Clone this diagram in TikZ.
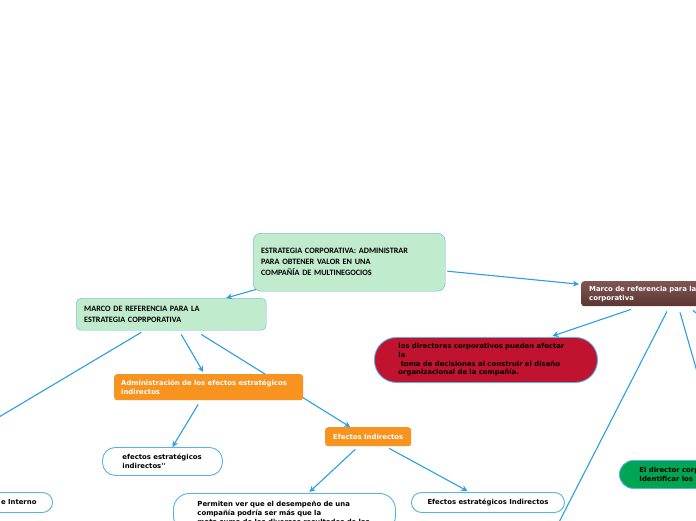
\documentclass[tikz,border=0pt]{standalone}
\usepackage{fontspec}
\newfontfamily\mapfont{DejaVu Sans}
\newfontfamily\capsfont{Carlito}
\usetikzlibrary{arrows.meta}
\definecolor{linkblue}{RGB}{42,159,226}
\definecolor{rimblue}{RGB}{86,178,232}
\definecolor{palegreen}{RGB}{193,235,205}
\definecolor{browntop}{RGB}{128,86,83}
\definecolor{brownbot}{RGB}{90,53,50}
\definecolor{deepred}{RGB}{192,19,47}
\definecolor{mmorange}{RGB}{247,147,30}
\definecolor{mmgreen}{RGB}{0,165,81}
\begin{document}
\begin{tikzpicture}[x=1pt,y=-1pt,
        link/.style={draw=linkblue,line width=1.1pt},
        linkto/.style={link,-{Stealth[length=6pt,width=6pt]}},
        capsbox/.style={draw=rimblue,fill=palegreen,rounded corners=5pt,anchor=north west,
            align=left,inner xsep=8pt,inner ysep=0pt,
            font=\capsfont\bfseries\fontsize{8.2}{11}\selectfont},
        orbox/.style={fill=mmorange,rounded corners=3pt,anchor=north west,text=white,
            inner ysep=0pt,font=\mapfont\bfseries\fontsize{6.9}{8.4}\selectfont},
        pill/.style={draw=rimblue,line width=0.9pt,fill=white,anchor=north west,
            align=left,inner ysep=0pt,font=\mapfont\bfseries\fontsize{6.9}{9}\selectfont}]
    \useasboundingbox (0,0) rectangle (696,520);
    \clip (0,0) rectangle (696,520);

    % line under the orange box first
    \node[capsbox,minimum height=32pt,text width=174pt] (marco) at (76,298)
        {MARCO DE REFERENCIA PARA LA\\ESTRATEGIA COPRPORATIVA};
    \node[orbox,minimum width=86pt,minimum height=19pt] (efind) at (325,427) {Efectos Indirectos};
    \draw[linkto] ([shift={(30,4)}]marco.south) -- ([shift={(-18,0)}]efind.north);

    \node[capsbox,minimum height=58pt,text width=176pt,rounded corners=8pt] (top) at (253,233)
        {ESTRATEGIA CORPORATIVA: ADMINISTRAR\\PARA OBTENER VALOR EN UNA\\COMPAÑÍA DE MULTINEGOCIOS};
    \node[anchor=north west,top color=browntop,bottom color=brownbot,rounded corners=3pt,
        minimum height=25pt,text width=144pt,inner xsep=8pt,inner ysep=0pt,align=left,text=white,
        font=\mapfont\bfseries\fontsize{6.9}{9}\selectfont] (brown) at (581,281)
        {Marco de referencia para la\\corporativa};
    \node[pill,fill=deepred,rounded corners=22pt,minimum height=45pt,text width=175pt,
        inner xsep=24pt,font=\mapfont\bfseries\fontsize{6.9}{8.7}\selectfont] (red) at (374,337)
        {los directores corporativos pueden afectar\\la\\\ toma de decisiones al construir el diseño\\organizacional de la compañía.};
    \node[orbox,minimum height=26pt,text width=175pt,inner xsep=7pt,align=left] (admin) at (114,374)
        {Administración de los efectos estratégicos\\indirectos};
    \node[pill,rounded corners=13pt,minimum height=28pt,text width=80pt,inner xsep=20pt] (efeest) at (102,447)
        {efectos estratégicos\\indirectos''};
    \node[pill,rounded corners=10pt,minimum height=20pt,anchor=north east,align=right,
        text width=80pt,inner xsep=16pt] (interno) at (53,492) {e Interno};
    \node[pill,rounded corners=16pt,anchor=north west,text width=174pt,
        inner xsep=24pt,inner ysep=7.5pt] (permiten) at (173,493)
        {Permiten ver que el desempeño de una\\compañía podría ser más que la\\mata suma de los diversos resultados de las};
    \node[pill,rounded corners=10pt,minimum height=20pt,minimum width=153pt,align=center] (efest2) at (411,492)
        {Efectos estratégicos Indirectos};
    \node[pill,fill=mmgreen,rounded corners=14pt,minimum height=28pt,text width=140pt,
        inner xsep=20pt] (dirgreen) at (619,460) {El director corp\\Identificar los};

    % free ends beyond the picture edge
    \coordinate (offleft) at (-6,420);
    \coordinate (offbottom) at (555,530);
    \coordinate (offright) at (700,382);
    \coordinate (offcorner) at (702,318);

    \draw[linkto] ([shift={(2,9)}]top.east) -- ([shift={(-2,-9.5)}]brown.west);
    \draw[linkto] ([shift={(3,-2)}]top.south west) -- ([shift={(55,0)}]marco.north);
    \draw[link] ([shift={(-30,2)}]marco.south) -- (offleft);
    \draw[linkto] ([shift={(10,4)}]marco.south) -- ([shift={(-5.5,-2)}]admin.north);
    \draw[linkto] ([shift={(-10.5,4)}]admin.south) -- ([shift={(10,0)}]efeest.north);
    \draw[linkto] ([shift={(-13,3)}]efind.south) -- ([shift={(25,-1)}]permiten.north);
    \draw[linkto] ([shift={(21,2)}]efind.south) -- ([shift={(-20.5,-1)}]efest2.north);
    \draw[linkto] ([shift={(50,3)}]brown.south west) -- ([shift={(66.5,-1)}]red.north);
    \draw[link] ([shift={(86,5)}]brown.south west) -- (offbottom);
    \draw[link] ([shift={(99,6)}]brown.south west) -- (offright);
    \draw[link] ([shift={(112,4)}]brown.south west) -- (offcorner);
\end{tikzpicture}
\end{document}
